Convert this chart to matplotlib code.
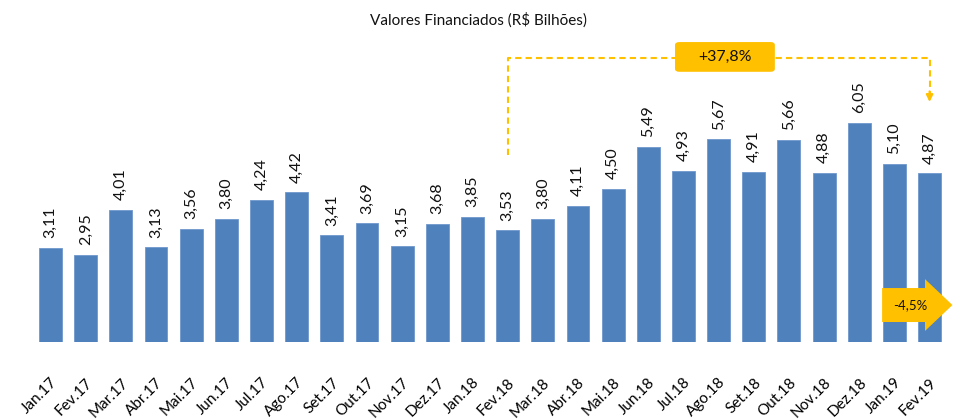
import matplotlib.pyplot as plt
from matplotlib import patches
import numpy as np

plt.rcParams['font.family'] = ['Lato', 'DejaVu Sans']

meses = ['Jan.17', 'Fev.17', 'Mar.17', 'Abr.17', 'Mai.17', 'Jun.17', 'Jul.17',
         'Ago.17', 'Set.17', 'Out.17', 'Nov.17', 'Dez.17', 'Jan.18', 'Fev.18',
         'Mar.18', 'Abr.18', 'Mai.18', 'Jun.18', 'Jul.18', 'Ago.18', 'Set.18',
         'Out.18', 'Nov.18', 'Dez.18', 'Jan.19', 'Fev.19']
valores = [3.11, 2.95, 4.01, 3.13, 3.56, 3.80, 4.24, 4.42, 3.41, 3.69, 3.15,
           3.68, 3.85, 3.53, 3.80, 4.11, 4.50, 5.49, 4.93, 5.67, 4.91, 5.66,
           4.88, 6.05, 5.10, 4.87]
var_anual = '+37,8%'
var_mensal = '-4,5%'

BLUE = '#4F81BD'
GOLD = '#FFC000'
Y0 = 0.9  # base of the value axis

fig = plt.figure(figsize=(9.57, 4.19), dpi=100)
ax = fig.add_axes([0, 77 / 419, 1, 342 / 419])
x = np.arange(len(meses))
ax.bar(x, np.array(valores) - Y0, bottom=Y0, width=0.65, color=BLUE,
       edgecolor='#6E98CC', linewidth=0.6)
for xi, v in zip(x, valores):
    ax.annotate('{:.2f}'.format(v).replace('.', ','), (xi, v), xytext=(0, 7),
                textcoords='offset points', rotation=90, ha='center', va='bottom',
                fontsize=11.5, color='#111111')

ax.set_xlim(-1.436, 25.78)
ax.set_ylim(Y0, 8.95)
ax.set_xticks(x)
ax.set_xticklabels(meses, rotation=45, ha='right', va='top',
                   rotation_mode='anchor', fontsize=11)
for lbl in ax.get_xticklabels():
    lbl.set_x(lbl.get_position()[0])
ax.tick_params(axis='x', length=0, pad=24)
ax.set_yticks([])
for s in ax.spines.values():
    s.set_visible(False)

fig.text(0.5, 1 - 20 / 419, 'Valores Financiados (R$ Bilhões)', ha='center',
         va='center', fontsize=11, color='#111111')

# dashed bracket Fev.18 -> Fev.19
i0, i1 = meses.index('Fev.18'), meses.index('Fev.19')
ytop = 7.58
ax.plot([i0, i0, i1, i1], [5.3, ytop, ytop, 6.75], ls=(0, (3, 2)),
        color=GOLD, lw=1.5)
ax.annotate('', xy=(i1, 6.55), xytext=(i1, 6.8),
            arrowprops=dict(arrowstyle='-|>', color=GOLD, lw=1.5,
                            mutation_scale=10, shrinkA=0, shrinkB=0))
bx = 19.18
box = patches.FancyBboxPatch((bx - 1.42, ytop - 0.32), 2.84, 0.7,
                             boxstyle='round,pad=0,rounding_size=0.12',
                             facecolor=GOLD, edgecolor='none', zorder=3,
                             mutation_aspect=0.6)
ax.add_patch(box)
ax.text(bx, ytop + 0.03, var_anual, ha='center', va='center', fontsize=11.5,
        color='#111111', zorder=4)

# -4,5% arrow
arr = patches.FancyArrow(23.65, 1.77, 2.0, 0, width=0.8, head_width=1.22,
                         head_length=0.78, length_includes_head=True,
                         facecolor=GOLD, edgecolor='none', zorder=3)
ax.add_patch(arr)
ax.text(24.45, 1.77, var_mensal, ha='center', va='center', fontsize=9.5,
        color='#111111', zorder=4)

fig.savefig('out.png', dpi=100)
